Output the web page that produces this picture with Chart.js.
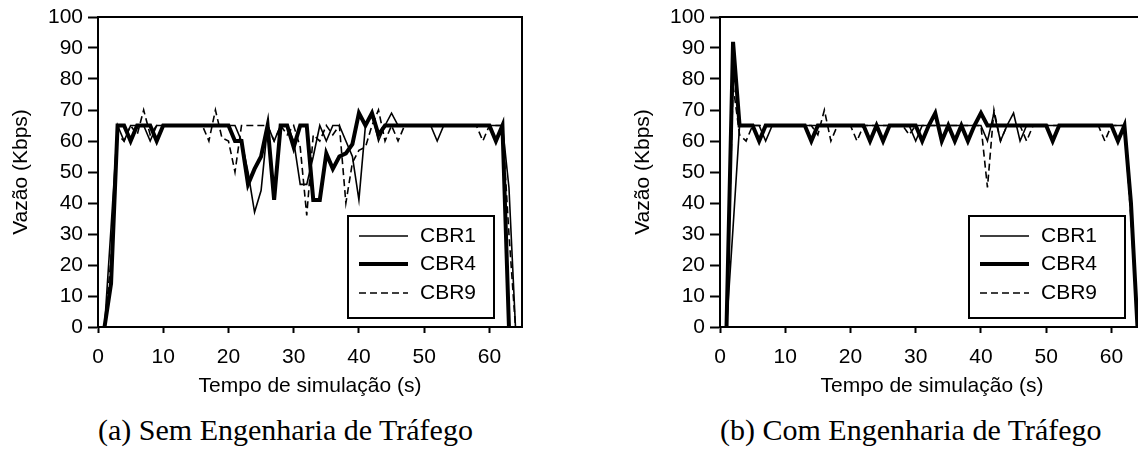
<!DOCTYPE html>
<html>
<head>
<meta charset="utf-8">
<script src="https://cdn.jsdelivr.net/npm/chart.js@4.4.1/dist/chart.umd.min.js"></script>
<style>
  html, body { margin: 0; padding: 0; background: #fff; }
  body { width: 1138px; height: 454px; overflow: hidden; position: relative; }
  .panel { position: absolute; top: 0; width: 560px; height: 410px; }
  .caption { position: absolute; top: 413px; font-family: "Liberation Serif", "Times New Roman", serif; font-size: 30px; color: #000; white-space: nowrap; }
</style>
</head>
<body>
<div class="panel" style="left:0"><canvas id="chartA" width="560" height="410"></canvas></div>
<div class="panel" style="left:622px"><canvas id="chartB" width="560" height="410"></canvas></div>
<div class="caption" style="left:98px">(a) Sem Engenharia de Tráfego</div>
<div class="caption" style="left:720px">(b) Com Engenharia de Tráfego</div>
<script>
// time (s)
const seconds = [1, 2, 3, 4, 5, 6, 7, 8, 9, 10, 11, 12, 13, 14, 15, 16, 17, 18, 19, 20,
  21, 22, 23, 24, 25, 26, 27, 28, 29, 30, 31, 32, 33, 34, 35, 36, 37, 38, 39, 40,
  41, 42, 43, 44, 45, 46, 47, 48, 49, 50, 51, 52, 53, 54, 55, 56, 57, 58, 59, 60,
  61, 62, 63, 64];
const seriesNames = ['CBR1', 'CBR4', 'CBR9'];
const xTicks = [0, 10, 20, 30, 40, 50, 60];

// (a) sem engenharia de trafego
const cbr1A = [0, 32, 65, 60, 65, 65, 65, 60, 65, 65,
  65, 65, 65, 65, 65, 65, 65, 65, 65, 65,
  65, 60, 50, 37, 44, 65, 60, 65, 65, 60,
  46, 46, 55, 65, 60, 65, 65, 60, 55, 41,
  65, 69, 60, 65, 69, 65, 65, 65, 65, 65,
  65, 60, 65, 65, 65, 65, 65, 65, 65, 65,
  65, 65, 45, 0];
const cbr4A = [0, 14, 65, 65, 60, 65, 65, 65, 60, 65,
  65, 65, 65, 65, 65, 65, 65, 65, 65, 65,
  60, 60, 46, 51, 55, 65, 41, 65, 65, 58,
  65, 65, 41, 41, 56, 51, 55, 56, 59, 69,
  65, 69, 62, 65, 65, 65, 65, 65, 65, 65,
  65, 65, 65, 65, 65, 65, 65, 65, 65, 65,
  60, 65, 0, null];
const cbr9A = [0, 22, 62, 60, 65, 62, 70, 62, 65, 65,
  65, 65, 65, 65, 65, 65, 60, 70, 61, 60,
  50, 65, 65, 65, 65, 65, 60, 65, 62, 65,
  58, 36, 62, 60, 65, 62, 65, 40, 53, 57,
  58, 65, 70, 60, 65, 60, 65, 65, 65, 65,
  65, 65, 65, 65, 65, 65, 65, 65, 60, 65,
  65, 65, 30, 0];

// (b) com engenharia de trafego
const cbr1B = [0, 32, 65, 65, 65, 65, 60, 65, 65, 65,
  65, 65, 65, 65, 65, 65, 65, 65, 65, 65,
  65, 65, 65, 65, 65, 65, 65, 65, 65, 60,
  65, 65, 65, 65, 65, 65, 65, 65, 65, 65,
  60, 69, 60, 65, 69, 60, 65, 65, 65, 65,
  65, 65, 65, 65, 65, 65, 65, 65, 65, 65,
  65, 65, 38, 0];
const cbr4B = [0, 92, 65, 65, 65, 60, 65, 65, 65, 65,
  65, 65, 65, 60, 65, 65, 65, 65, 65, 65,
  65, 65, 60, 65, 60, 65, 65, 65, 65, 65,
  60, 65, 69, 60, 65, 60, 65, 60, 65, 69,
  65, 65, 65, 65, 65, 65, 65, 65, 65, 65,
  60, 65, 65, 65, 65, 65, 65, 65, 65, 65,
  60, 65, 40, 0];
const cbr9B = [0, 78, 62, 60, 65, 65, 65, 65, 65, 65,
  65, 65, 65, 65, 62, 70, 60, 65, 65, 65,
  60, 65, 65, 65, 65, 65, 65, 65, 62, 65,
  65, 65, 65, 65, 65, 65, 65, 65, 65, 65,
  45, 70, 60, 65, 65, 65, 60, 65, 65, 65,
  65, 65, 65, 65, 65, 65, 65, 65, 60, 65,
  65, 65, 35, 0];

Chart.defaults.font.family = '"Liberation Sans", Arial, sans-serif';
Chart.defaults.font.size = 21;
Chart.defaults.color = '#000';

const frameAndLegend = {
  id: 'frameAndLegend',
  afterDatasetsDraw(chart, args, opts) {
    const { ctx, chartArea: a } = chart;
    ctx.save();
    ctx.strokeStyle = '#000';
    ctx.lineWidth = 2;
    ctx.strokeRect(a.left, a.top, a.right - a.left, a.bottom - a.top);

    const b = opts.box;
    ctx.fillStyle = '#fff';
    ctx.fillRect(b.x, b.y, b.w, b.h);
    ctx.strokeRect(b.x, b.y, b.w, b.h);
    const rows = [20, 48, 77];
    chart.data.datasets.forEach((ds, i) => {
      const y = b.y + rows[i];
      ctx.lineWidth = ds.borderWidth;
      ctx.setLineDash(ds.borderDash || []);
      ctx.beginPath();
      ctx.moveTo(b.x + 11, y);
      ctx.lineTo(b.x + 60, y);
      ctx.stroke();
      ctx.setLineDash([]);
      ctx.fillStyle = '#000';
      ctx.font = '21px "Liberation Sans", Arial, sans-serif';
      ctx.textBaseline = 'middle';
      ctx.fillText(ds.label, b.x + 72, y);
    });
    ctx.restore();
  }
};

function makeChart(id, values, box) {
  const styles = [
    { borderWidth: 1.6, borderDash: [] },
    { borderWidth: 4, borderDash: [] },
    { borderWidth: 1.6, borderDash: [7, 4] }
  ];
  const datasets = values.map((vals, i) => ({
    label: seriesNames[i],
    data: seconds.map((t, k) => ({ x: t, y: vals[k] })),
    borderColor: '#000',
    backgroundColor: '#000',
    borderWidth: styles[i].borderWidth,
    borderDash: styles[i].borderDash,
    pointRadius: 0,
    tension: 0,
    fill: false
  }));
  // thick line drawn on top
  datasets.forEach((d, i) => { d.order = i === 1 ? 0 : 1; });

  return new Chart(document.getElementById(id).getContext('2d'), {
    type: 'line',
    data: { datasets },
    plugins: [frameAndLegend],
    options: {
      responsive: false,
      animation: false,
      devicePixelRatio: 1,
      layout: { padding: { left: 0, top: 17, right: 38, bottom: 0 } },
      plugins: {
        legend: { display: false },
        tooltip: { enabled: false },
        frameAndLegend: { box }
      },
      scales: {
        x: {
          type: 'linear',
          min: 0,
          max: 65,
          afterBuildTicks: s => { s.ticks = xTicks.map(v => ({ value: v })); },
          afterFit: s => { s.height = 83; },
          ticks: { padding: 12, maxRotation: 0, autoSkip: false, color: '#000' },
          grid: { drawOnChartArea: false, tickLength: 6, tickWidth: 2, tickColor: '#000' },
          border: { color: '#000', width: 2 },
          title: { display: true, text: 'Tempo de simulação (s)', color: '#000', padding: { top: 0, bottom: 11 } }
        },
        y: {
          min: 0,
          max: 100,
          afterFit: s => { s.width = 98; s.paddingTop = 0; s.paddingBottom = 0; },
          ticks: { stepSize: 10, padding: 5, color: '#000' },
          grid: { drawOnChartArea: false, tickLength: 10, tickWidth: 2, tickColor: '#000' },
          border: { color: '#000', width: 2 },
          title: { display: true, text: 'Vazão (Kbps)', color: '#000', padding: { top: 9, bottom: 0 } }
        }
      }
    }
  });
}

makeChart('chartA', [cbr1A, cbr4A, cbr9A], { x: 348, y: 216, w: 146, h: 102 });
makeChart('chartB', [cbr1B, cbr4B, cbr9B], { x: 347, y: 216, w: 156, h: 102 });
</script>
</body>
</html>
